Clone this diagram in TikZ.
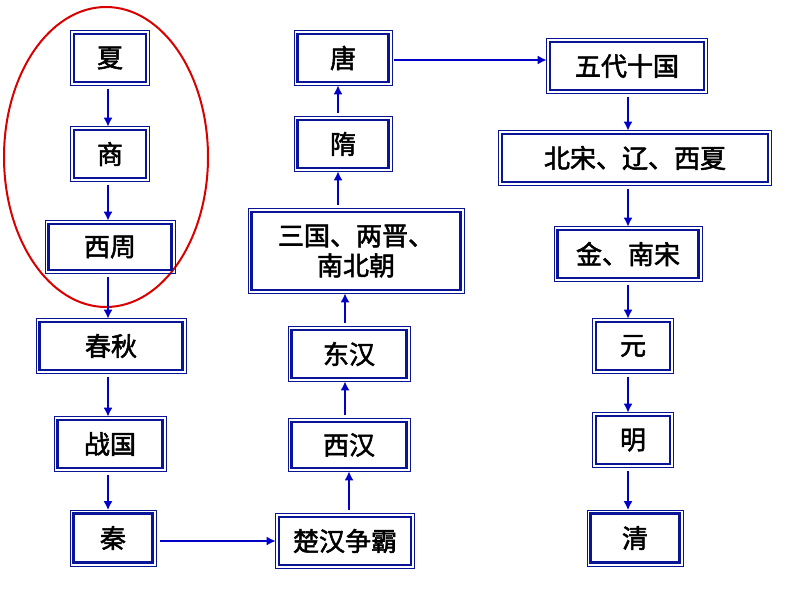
\documentclass[tikz,border=0pt]{standalone}
\usepackage{fontspec}
\newfontfamily\cjk{Noto Sans CJK SC}[FakeBold=2]
\usetikzlibrary{arrows.meta}
\definecolor{bx}{RGB}{10,20,150}
\definecolor{ar}{RGB}{0,0,200}
\tikzset{
 bb/.style={draw=bx,line width=2.6pt,fill=white,inner sep=0pt,align=center,font=\cjk\fontsize{26}{30}\selectfont},
 bo/.style={draw=bx,line width=0.7pt},
 ar/.style={draw=ar,line width=1.8pt,-{Latex[length=9pt,width=9pt]},shorten >=2pt,shorten <=6pt}
}
\newcommand\bxn[5]{\node[bb,minimum width=#3pt,minimum height=#4pt] (#1) at (#2) {#5};
 \draw[bo] ([shift={(-2.3pt,2.3pt)}]#1.north west) rectangle ([shift={(2.3pt,-2.3pt)}]#1.south east);}
\begin{document}
\begin{tikzpicture}[x=1pt,y=-1pt]
\useasboundingbox (0,0) rectangle (794,596);
\draw[red!85!black,line width=2pt] (106,157) ellipse [x radius=102,y radius=150];
\bxn{xia}{110,58}{72}{48}{夏}
\bxn{shang}{110,154}{72}{48}{商}
\bxn{xz}{110,247}{123}{46}{西周}
\bxn{cq}{111,346}{143}{48}{春秋}
\bxn{zg}{110,444}{105}{48}{战国}
\bxn{qin}{113,538}{79}{49}{秦}
\bxn{ch}{345,541}{132}{48}{楚汉争霸}
\bxn{xh}{349,445}{115}{46}{西汉}
\bxn{dh}{349,354}{115}{48}{东汉}
\bxn{sg}{356,251}{209}{78}{三国、两晋、\\南北朝}
\bxn{sui}{343,144}{91}{48}{隋}
\bxn{tang}{343,58}{91}{48}{唐}
\bxn{wd}{627,66}{154}{48}{五代十国}
\bxn{bs}{635,158}{266}{48}{北宋、辽、西夏}
\bxn{jn}{628,254}{141}{48}{金、南宋}
\bxn{yuan}{633,346}{74}{48}{元}
\bxn{ming}{633,440}{74}{48}{明}
\bxn{qing}{635,538}{89}{49}{清}
\draw[ar] (xia.south-|108,0) -- (shang.north-|108,0);
\draw[ar] (shang.south-|108,0) -- (xz.north-|108,0);
\draw[ar] (xz.south-|108,0) -- (cq.north-|108,0);
\draw[ar] (cq.south-|108,0) -- (zg.north-|108,0);
\draw[ar] (zg.south-|108,0) -- (qin.north-|108,0);
\draw[ar] (qin.east|-0,541) -- (ch.west|-0,541);
\draw[ar] (ch.north-|349,0) -- (xh.south-|349,0);
\draw[ar] (xh.north-|345,0) -- (dh.south-|345,0);
\draw[ar] (dh.north-|345,0) -- (sg.south-|345,0);
\draw[ar] (sg.north-|338,0) -- (sui.south-|338,0);
\draw[ar] (sui.north-|338,0) -- (tang.south-|338,0);
\draw[ar,shorten <=4pt] (tang.east|-0,60) -- (wd.west|-0,60);
\draw[ar] (wd.south-|628,0) -- (bs.north-|628,0);
\draw[ar] (bs.south-|628,0) -- (jn.north-|628,0);
\draw[ar] (jn.south-|628,0) -- (yuan.north-|628,0);
\draw[ar] (yuan.south-|628,0) -- (ming.north-|628,0);
\draw[ar] (ming.south-|628,0) -- (qing.north-|628,0);
\end{tikzpicture}
\end{document}
